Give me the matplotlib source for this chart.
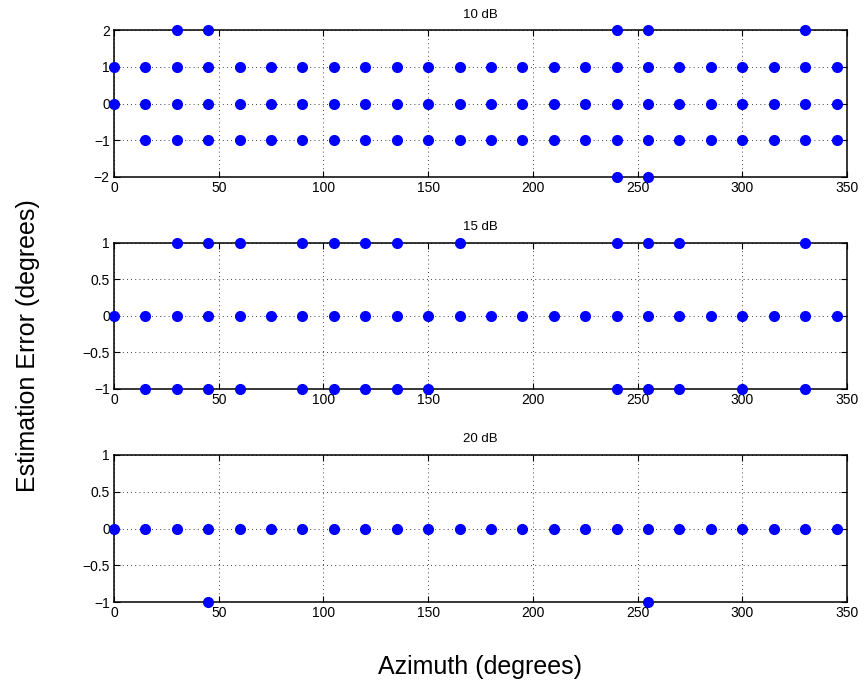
import matplotlib
matplotlib.use("Agg")
import matplotlib.pyplot as plt

plt.rcParams['font.family'] = ['Liberation Sans', 'DejaVu Sans']

# azimuth grid (degrees)
azimuths = list(range(0, 360, 15))

# 10 dB: azimuths where each error value occurs
snr10_p2 = [30, 45, 240, 255, 330]
snr10_p1 = azimuths
snr10_0 = azimuths
snr10_m1 = azimuths[1:]
snr10_m2 = [240, 255]

# 15 dB
snr15_p1 = [30, 45, 60, 90, 105, 120, 135, 165, 240, 255, 270, 330]
snr15_0 = azimuths
snr15_m1 = [15, 30, 45, 60, 90, 105, 120, 135, 150, 240, 255, 270, 300, 330]

# 20 dB
snr20_0 = azimuths
snr20_m1 = [45, 255]

panels = [
    ("10 dB", {2: snr10_p2, 1: snr10_p1, 0: snr10_0, -1: snr10_m1, -2: snr10_m2},
     (-2, 2), [-2, -1, 0, 1, 2], ['\u22122', '\u22121', '0', '1', '2']),
    ("15 dB", {1: snr15_p1, 0: snr15_0, -1: snr15_m1},
     (-1, 1), [-1, -0.5, 0, 0.5, 1], ['\u22121', '\u22120.5', '0', '0.5', '1']),
    ("20 dB", {0: snr20_0, -1: snr20_m1},
     (-1, 1), [-1, -0.5, 0, 0.5, 1], ['\u22121', '\u22120.5', '0', '0.5', '1']),
]

fig = plt.figure(figsize=(8.65, 6.92), dpi=100)
W, H = 865., 692.
boxes = [(30, 177), (243, 389), (455, 602)]
left, right = 114, 847

for (title, errs, ylim, yt, ytl), (top, bot) in zip(panels, boxes):
    ax = fig.add_axes([left / W, 1 - bot / H, (right - left) / W, (bot - top) / H])
    for err, az in errs.items():
        ax.plot(az, [err] * len(az), 'o', color='blue', markersize=7,
                markeredgecolor='blue', clip_on=False, zorder=3)
    ax.set_xlim(0, 350)
    ax.set_ylim(*ylim)
    ax.set_xticks(range(0, 351, 50))
    ax.set_yticks(yt)
    ax.set_yticklabels(ytl)
    ax.grid(True, linestyle=(0, (1, 4)), color='black', linewidth=0.6)
    ax.tick_params(direction='in', top=True, right=True, labelsize=10,
                   length=4, width=0.8, pad=3)
    for s in ax.spines.values():
        s.set_linewidth(1.1)
    ax.set_title(title, fontsize=9.5, pad=9)

fig.text(28 / W, 0.5, 'Estimation Error (degrees)', rotation=90,
         ha='center', va='center', fontsize=18)
fig.text(0.555, 1 - 667 / H, 'Azimuth (degrees)', ha='center', va='center',
         fontsize=18)

fig.savefig('out.png', dpi=100)
